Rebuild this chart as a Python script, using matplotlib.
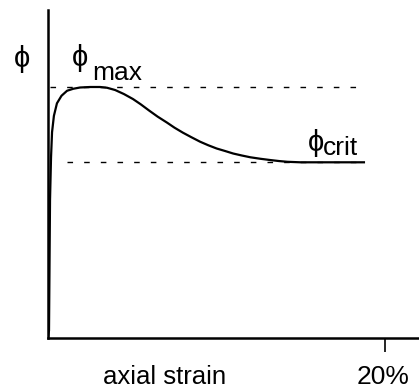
import matplotlib
matplotlib.use("Agg")
import matplotlib.pyplot as plt

plt.rcParams['font.family'] = ['Liberation Sans', 'DejaVu Sans']

# axial strain (%) and friction angle (phi / phi_max)
strain = [0.0, 0.06, 0.12, 0.18, 0.24, 0.35, 0.53, 0.8, 1.13, 1.5, 1.9, 2.5,
          3.09, 3.5, 3.98, 4.5, 5.04, 5.5, 6.0, 6.5, 7.06, 7.5, 8.0, 8.5,
          9.02, 9.5, 10.0, 10.5, 10.98, 11.5, 12.0, 12.6, 13.18, 13.7,
          14.2, 14.96, 16.0, 17.0, 18.8]
phi = [0.0, 0.03, 0.55, 0.72, 0.82, 0.885, 0.935, 0.965, 0.985, 0.993, 0.998, 1.0,
       1.0, 0.997, 0.988, 0.972, 0.952, 0.931, 0.906, 0.882, 0.858, 0.838, 0.818, 0.8,
       0.782, 0.768, 0.755, 0.745, 0.735, 0.727, 0.72, 0.714, 0.709, 0.705,
       0.702, 0.70, 0.70, 0.70, 0.70]

phi_max = 1.0
phi_crit = 0.70

fig = plt.figure(figsize=(4.19, 3.9), dpi=100)
ax = fig.add_axes([48/419, 52/390, 371/419, 328/390])

ax.plot(strain, phi, color='black', lw=1.6, solid_capstyle='butt')
ax.plot([0.1, 18.8], [phi_max, phi_max], color='black', lw=1.0, ls=(0, (4, 8)))
ax.plot([1.1, 18.8], [phi_crit, phi_crit], color='black', lw=1.0, ls=(0, (4, 8)))

ax.set_xlim(0, 22.0)
ax.set_ylim(0, 328/251)

for s in ['top', 'right']:
    ax.spines[s].set_visible(False)
for s in ['left', 'bottom']:
    ax.spines[s].set_linewidth(1.8)

ax.set_xticks([20])
ax.set_xticklabels([''])
ax.tick_params(axis='x', direction='out', length=10, width=1.2, pad=2)
ax.set_yticks([])

# labels
ax.text(-2.0, 1.08, 'ϕ', fontsize=21, ha='left', va='baseline', clip_on=False)
ax.text(1.4, 1.085, 'ϕ', fontsize=21, ha='left', va='baseline')
ax.text(2.6, 1.027, 'max', fontsize=19, ha='left', va='baseline')
ax.text(15.4, 0.745, 'ϕ', fontsize=21, ha='left', va='baseline')
ax.text(16.3, 0.73, 'crit', fontsize=19, ha='left', va='baseline')

fig.text(165/419, 1 - 384/390, 'axial strain', fontsize=18.5, ha='center', va='baseline')
fig.text(383/419, 1 - 384/390, '20%', fontsize=19, ha='center', va='baseline')

fig.savefig('out.png', dpi=100)
